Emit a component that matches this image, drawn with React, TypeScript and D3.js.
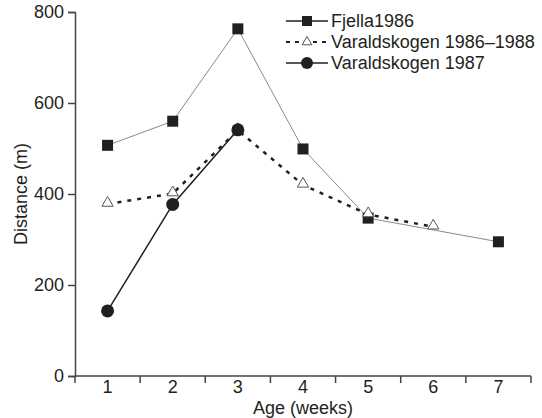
import React, { useEffect, useRef } from "react";
import * as d3 from "d3";

const weeks = [1, 2, 3, 4, 5, 6, 7];
const yTicks = [0, 200, 400, 600, 800];

// week -> distance (m)
const fjella1986: [number, number][] = [
  [1, 507],
  [2, 560],
  [3, 763],
  [4, 499],
  [5, 347],
  [7, 295],
];
const varald8688: [number, number][] = [
  [1, 378],
  [2, 401],
  [3, 540],
  [4, 420],
  [5, 355],
  [6, 328],
];
const varald1987: [number, number][] = [
  [1, 143],
  [2, 377],
  [3, 541],
];

const font = "'Liberation Sans', Arial, sans-serif";
const ink = "#231f20";
const fs = 18;

export default function App() {
  const ref = useRef<SVGSVGElement>(null);

  useEffect(() => {
    const svg = d3.select(ref.current);
    svg.selectAll("*").remove();

    const x = d3.scaleBand<number>().domain(weeks).range([75, 531]);
    const y = d3.scaleLinear().domain([0, 800]).range([376, 12]);
    const cx = (w: number) => (x(w) as number) + x.bandwidth() / 2;

    // axes
    const yAxis = svg.append("g").attr("transform", "translate(75,0)");
    yAxis
      .call(d3.axisLeft(y).tickValues(yTicks).tickSize(7).tickPadding(4))
      .call((g) => g.select(".domain").attr("stroke", "#444").attr("stroke-width", 1.5));
    yAxis.selectAll(".tick line").attr("stroke", "#444").attr("stroke-width", 1.5);
    yAxis
      .selectAll(".tick text")
      .attr("font-family", font)
      .attr("font-size", fs)
      .attr("fill", ink);

    const xAxis = svg.append("g").attr("transform", "translate(0,376)");
    xAxis
      .append("line")
      .attr("x1", 75)
      .attr("x2", 531)
      .attr("stroke", "#444")
      .attr("stroke-width", 1.5);
    xAxis
      .selectAll("line.tk")
      .data([...weeks.map((w) => x(w) as number), 531])
      .enter()
      .append("line")
      .attr("class", "tk")
      .attr("x1", (d) => d)
      .attr("x2", (d) => d)
      .attr("y1", 0)
      .attr("y2", 7)
      .attr("stroke", "#444")
      .attr("stroke-width", 1.5);
    xAxis
      .selectAll("text")
      .data(weeks)
      .enter()
      .append("text")
      .attr("x", (d) => cx(d))
      .attr("y", 17)
      .attr("text-anchor", "middle")
      .attr("font-family", font)
      .attr("font-size", fs)
      .attr("fill", ink)
      .text((d) => d);

    svg
      .append("text")
      .attr("x", 303)
      .attr("y", 414)
      .attr("text-anchor", "middle")
      .attr("font-family", font)
      .attr("font-size", fs)
      .attr("fill", ink)
      .text("Age (weeks)");
    svg
      .append("text")
      .attr("transform", "translate(27,194) rotate(-90)")
      .attr("text-anchor", "middle")
      .attr("font-family", font)
      .attr("font-size", fs)
      .attr("fill", ink)
      .text("Distance (m)");

    const line = d3
      .line<[number, number]>()
      .x((d) => cx(d[0]))
      .y((d) => y(d[1]));

    // lines
    svg
      .append("path")
      .attr("d", line(fjella1986))
      .attr("fill", "none")
      .attr("stroke", "#8a8a8a")
      .attr("stroke-width", 1);
    svg
      .append("path")
      .attr("d", line(varald8688))
      .attr("fill", "none")
      .attr("stroke", ink)
      .attr("stroke-width", 2.5)
      .attr("stroke-dasharray", "4,6");
    svg
      .append("path")
      .attr("d", line(varald1987))
      .attr("fill", "none")
      .attr("stroke", ink)
      .attr("stroke-width", 1.5);

    const tri = d3.symbol().type(d3.symbolTriangle).size(55);

    // markers
    svg
      .selectAll("rect.sq")
      .data(fjella1986)
      .enter()
      .append("rect")
      .attr("class", "sq")
      .attr("x", (d) => cx(d[0]) - 5.5)
      .attr("y", (d) => y(d[1]) - 5.5)
      .attr("width", 11)
      .attr("height", 11)
      .attr("fill", ink);
    svg
      .selectAll("path.tri")
      .data(varald8688)
      .enter()
      .append("path")
      .attr("class", "tri")
      .attr("d", tri)
      .attr("transform", (d) => `translate(${cx(d[0])},${y(d[1]) - 1})`)
      .attr("fill", "#fff")
      .attr("stroke", "#555")
      .attr("stroke-width", 1);
    svg
      .selectAll("circle.dot")
      .data(varald1987)
      .enter()
      .append("circle")
      .attr("class", "dot")
      .attr("cx", (d) => cx(d[0]))
      .attr("cy", (d) => y(d[1]))
      .attr("r", 6.5)
      .attr("fill", ink);

    // legend
    const legend = svg.append("g").attr("transform", "translate(286,0)");
    const rows = [
      { label: "Fjella1986", y: 21, kind: "sq" },
      { label: "Varaldskogen 1986\u20131988", y: 42, kind: "tri" },
      { label: "Varaldskogen 1987", y: 63, kind: "dot" },
    ];
    rows.forEach((r) => {
      const g = legend.append("g").attr("transform", `translate(0,${r.y})`);
      g.append("line")
        .attr("x1", 0)
        .attr("x2", 42)
        .attr("stroke", ink)
        .attr("stroke-width", r.kind === "tri" ? 2 : 1.5)
        .attr("stroke-dasharray", r.kind === "tri" ? "4,5" : null);
      if (r.kind === "sq") {
        g.append("rect").attr("x", 16).attr("y", -5).attr("width", 10).attr("height", 10).attr("fill", ink);
      } else if (r.kind === "tri") {
        g.append("path")
          .attr("d", d3.symbol().type(d3.symbolTriangle).size(40)())
          .attr("transform", "translate(21,0)")
          .attr("fill", "#fff")
          .attr("stroke", "#555");
      } else {
        g.append("circle").attr("cx", 21).attr("r", 6).attr("fill", ink);
      }
      g.append("text")
        .attr("x", 45)
        .attr("y", 6)
        .attr("font-family", font)
        .attr("font-size", fs)
        .attr("fill", ink)
        .text(r.label);
    });
  }, []);

  return <svg ref={ref} width={542} height={418} style={{ display: "block", position: "absolute", left: 0, top: 0 }} />;
}
